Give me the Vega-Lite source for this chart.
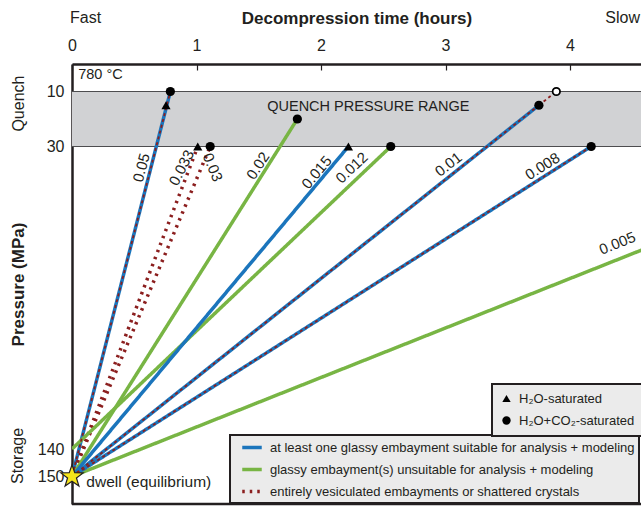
{
  "$schema": "https://vega.github.io/schema/vega-lite/v6.json",
  "width": 569,
  "height": 440,
  "autosize": "none",
  "padding": {"left": 72, "top": 64, "right": 0, "bottom": 4},
  "background": "white",
  "config": {
    "view": {"stroke": null},
    "font": "Liberation Sans",
    "text": {"color": "#231f20", "font": "Liberation Sans"},
    "axis": {"labelFont": "Liberation Sans", "titleFont": "Liberation Sans", "labelColor": "#231f20", "titleColor": "#231f20", "grid": false},
    "legend": {"labelFont": "Liberation Sans", "labelColor": "#231f20", "labelLimit": 600, "strokeWidth": 2}
  },
  "datasets": {
    "lines": [
      {"id": "0.05", "group": "at least one glassy embayment suitable for analysis + modeling", "style": "bicolor", "t": 0, "p": 150},
      {"id": "0.05", "group": "at least one glassy embayment suitable for analysis + modeling", "style": "bicolor", "t": 0.79, "p": 10},
      {"id": "0.033", "group": "entirely vesiculated embayments or shattered crystals", "style": "dotted", "t": 0, "p": 150},
      {"id": "0.033", "group": "entirely vesiculated embayments or shattered crystals", "style": "dotted", "t": 1.01, "p": 30},
      {"id": "0.03", "group": "entirely vesiculated embayments or shattered crystals", "style": "dotted", "t": 0, "p": 150},
      {"id": "0.03", "group": "entirely vesiculated embayments or shattered crystals", "style": "dotted", "t": 1.11, "p": 30},
      {"id": "0.02", "group": "glassy embayment(s) unsuitable for analysis + modeling", "style": "solid", "t": 0, "p": 150},
      {"id": "0.02", "group": "glassy embayment(s) unsuitable for analysis + modeling", "style": "solid", "t": 1.81, "p": 20},
      {"id": "0.012", "group": "glassy embayment(s) unsuitable for analysis + modeling", "style": "solid", "t": 0, "p": 140},
      {"id": "0.012", "group": "glassy embayment(s) unsuitable for analysis + modeling", "style": "solid", "t": 2.56, "p": 30},
      {"id": "0.005", "group": "glassy embayment(s) unsuitable for analysis + modeling", "style": "solid", "t": 0, "p": 150},
      {"id": "0.005", "group": "glassy embayment(s) unsuitable for analysis + modeling", "style": "solid", "t": 5, "p": 60},
      {"id": "0.015", "group": "at least one glassy embayment suitable for analysis + modeling", "style": "solid", "t": 0, "p": 150},
      {"id": "0.015", "group": "at least one glassy embayment suitable for analysis + modeling", "style": "solid", "t": 2.22, "p": 30},
      {"id": "0.01", "group": "at least one glassy embayment suitable for analysis + modeling", "style": "bicolor", "t": 0, "p": 150},
      {"id": "0.01", "group": "at least one glassy embayment suitable for analysis + modeling", "style": "bicolor", "t": 3.75, "p": 15},
      {"id": "0.01 tail", "group": "at least one glassy embayment suitable for analysis + modeling", "style": "tail", "t": 3.75, "p": 15},
      {"id": "0.01 tail", "group": "at least one glassy embayment suitable for analysis + modeling", "style": "tail", "t": 3.89, "p": 10},
      {"id": "0.008", "group": "at least one glassy embayment suitable for analysis + modeling", "style": "bicolor", "t": 0, "p": 150},
      {"id": "0.008", "group": "at least one glassy embayment suitable for analysis + modeling", "style": "bicolor", "t": 4.17, "p": 30}
    ],
    "points": [
      {"t": 0.755, "p": 15, "sat": "H₂O-saturated", "kind": "filled"},
      {"t": 0.79, "p": 10, "sat": "H₂O+CO₂-saturated", "kind": "filled"},
      {"t": 1.01, "p": 30, "sat": "H₂O-saturated", "kind": "filled"},
      {"t": 1.11, "p": 30, "sat": "H₂O+CO₂-saturated", "kind": "filled"},
      {"t": 1.81, "p": 20, "sat": "H₂O+CO₂-saturated", "kind": "filled"},
      {"t": 2.22, "p": 30, "sat": "H₂O-saturated", "kind": "filled"},
      {"t": 2.56, "p": 30, "sat": "H₂O+CO₂-saturated", "kind": "filled"},
      {"t": 3.75, "p": 15, "sat": "H₂O+CO₂-saturated", "kind": "filled"},
      {"t": 4.17, "p": 30, "sat": "H₂O+CO₂-saturated", "kind": "filled"},
      {"t": 3.89, "p": 10, "sat": "H₂O+CO₂-saturated", "kind": "open"}
    ],
    "labels": [
      {"rate": "0.05", "t": 0.557, "p": 37.7},
      {"rate": "0.033", "t": 0.88, "p": 37.7},
      {"rate": "0.03", "t": 1.13, "p": 37.6},
      {"rate": "0.02", "t": 1.494, "p": 37.0},
      {"rate": "0.015", "t": 1.965, "p": 39.4},
      {"rate": "0.012", "t": 2.247, "p": 37.7},
      {"rate": "0.01", "t": 3.023, "p": 36.5},
      {"rate": "0.008", "t": 3.778, "p": 37.2},
      {"rate": "0.005", "t": 4.38, "p": 65.2}
    ],
    "notes": [
      {"key": "temp", "text": "780 °C", "t": 0.05, "p": 4},
      {"key": "range", "text": "QUENCH PRESSURE RANGE", "t": 2.38, "p": 15.5},
      {"key": "dwell", "text": "dwell (equilibrium)", "t": 0.115, "p": 152},
      {"key": "fast", "text": "Fast", "t": -0.016, "p": -16.7},
      {"key": "slow", "text": "Slow", "t": 4.562, "p": -16.7},
      {"key": "side", "text": "Quench", "t": -0.425, "p": 14.4},
      {"key": "side", "text": "Storage", "t": -0.43, "p": 142.5}
    ]
  },
  "layer": [
    {
      "data": {"values": [{"t0": 0, "t1": 4.57, "p1": 10, "p2": 30}]},
      "mark": {"type": "rect", "fill": "#d1d2d4"},
      "encoding": {
        "x": {"field": "t0", "type": "quantitative", "scale": {"domain": [0, 4.57], "nice": false, "zero": false},
          "axis": {"orient": "top", "values": [0, 1, 2, 3, 4], "format": "d", "title": "Decompression time (hours)", "titleFontSize": 17, "titleFontWeight": "bold", "titlePadding": 10, "labelFontSize": 16, "labelPadding": 17, "labelFlush": false, "tickSize": -6, "tickColor": "#231f20", "tickWidth": 1.2, "domainColor": "#231f20", "domainWidth": 2.5}},
        "x2": {"field": "t1"},
        "y": {"field": "p1", "type": "quantitative", "scale": {"domain": [0, 160], "reverse": true, "nice": false, "zero": false},
          "axis": {"orient": "left", "values": [10, 30, 140, 150], "title": "Pressure (MPa)", "titleFontSize": 17, "titleFontWeight": "bold", "titlePadding": 10, "labelFontSize": 16, "labelPadding": 8, "ticks": false, "domainColor": "#231f20", "domainWidth": 2.5}},
        "y2": {"field": "p2"}
      }
    },
    {
      "data": {"values": [{"p": 10}, {"p": 30}]},
      "mark": {"type": "rule", "stroke": "#4d4d4f", "strokeWidth": 1},
      "encoding": {"y": {"field": "p", "type": "quantitative"}}
    },
    {
      "data": {"values": [{"p": 160}]},
      "mark": {"type": "rule", "stroke": "#231f20", "strokeWidth": 2.5},
      "encoding": {"y": {"field": "p", "type": "quantitative"}}
    },
    {
      "data": {"name": "lines"},
      "transform": [{"filter": "datum.style != 'tail'"}],
      "mark": {"type": "line", "strokeWidth": 3.5, "clip": true},
      "encoding": {
        "x": {"field": "t", "type": "quantitative"},
        "y": {"field": "p", "type": "quantitative"},
        "detail": {"field": "id"},
        "color": {"field": "group", "type": "nominal",
          "scale": {"domain": ["at least one glassy embayment suitable for analysis + modeling", "glassy embayment(s) unsuitable for analysis + modeling", "entirely vesiculated embayments or shattered crystals"], "range": ["#1b75bc", "#78b544", "#8b1e1e"]},
          "legend": {"title": null, "orient": "none", "legendX": 158, "legendY": 371, "fillColor": "#ebebeb", "strokeColor": "#231f20", "padding": 4, "symbolType": "M-1.5,0H1.5", "symbolSize": 169, "symbolOffset": 9.5, "symbolStrokeWidth": 3.5, "labelFontSize": 13, "rowPadding": 6, "labelOffset": 9.5}},
        "strokeDash": {"field": "group", "type": "nominal",
          "scale": {"domain": ["at least one glassy embayment suitable for analysis + modeling", "glassy embayment(s) unsuitable for analysis + modeling", "entirely vesiculated embayments or shattered crystals"], "range": [[1, 0], [1, 0], [2.5, 5]]},
          "legend": {"title": null, "orient": "none", "legendX": 158, "legendY": 371, "fillColor": "#ebebeb", "strokeColor": "#231f20", "padding": 4, "symbolType": "M-1.5,0H1.5", "symbolSize": 169, "symbolOffset": 9.5, "symbolStrokeWidth": 3.5, "labelFontSize": 13, "rowPadding": 6, "labelOffset": 9.5}}
      }
    },
    {
      "data": {"name": "lines"},
      "transform": [{"filter": "datum.style == 'bicolor' || datum.style == 'tail'"}],
      "mark": {"type": "line", "stroke": "#8b1e1e", "strokeWidth": 1.8, "strokeDash": [3, 3]},
      "encoding": {
        "x": {"field": "t", "type": "quantitative"},
        "y": {"field": "p", "type": "quantitative"},
        "detail": {"field": "id"}
      }
    },
    {
      "data": {"name": "points"},
      "transform": [{"filter": "datum.kind == 'filled'"}],
      "mark": {"type": "point", "filled": true, "color": "black", "size": 85, "opacity": 1},
      "encoding": {
        "x": {"field": "t", "type": "quantitative"},
        "y": {"field": "p", "type": "quantitative"},
        "shape": {"field": "sat", "type": "nominal",
          "scale": {"domain": ["H₂O-saturated", "H₂O+CO₂-saturated"], "range": ["triangle-up", "circle"]},
          "legend": {"title": null, "orient": "none", "legendX": 420, "legendY": 320, "fillColor": "#ebebeb", "strokeColor": "#231f20", "padding": 8, "symbolSize": 70, "symbolFillColor": "black", "symbolStrokeColor": "black", "labelFontSize": 13, "rowPadding": 7, "labelOffset": 6}}
      }
    },
    {
      "data": {"name": "points"},
      "transform": [{"filter": "datum.kind == 'open'"}],
      "mark": {"type": "point", "shape": "circle", "filled": false, "fill": "white", "stroke": "black", "strokeWidth": 1.8, "size": 55, "opacity": 1},
      "encoding": {
        "x": {"field": "t", "type": "quantitative"},
        "y": {"field": "p", "type": "quantitative"}
      }
    },
    {
      "data": {"values": [{"t": 0, "p": 150}]},
      "mark": {"type": "point", "shape": "M0,-1L0.235,-0.324L0.951,-0.309L0.38,0.124L0.588,0.809L0,0.4L-0.588,0.809L-0.38,0.124L-0.951,-0.309L-0.235,-0.324Z", "filled": true, "fill": "#f5e51b", "stroke": "#231f20", "strokeWidth": 1.2, "size": 550, "opacity": 1},
      "encoding": {
        "x": {"field": "t", "type": "quantitative"},
        "y": {"field": "p", "type": "quantitative"}
      }
    },
    {"data": {"name": "labels"}, "transform": [{"filter": "datum.rate == '0.05'"}], "mark": {"type": "text", "angle": -75, "fontSize": 15}, "encoding": {"x": {"field": "t", "type": "quantitative"}, "y": {"field": "p", "type": "quantitative"}, "text": {"field": "rate"}}},
    {"data": {"name": "labels"}, "transform": [{"filter": "datum.rate == '0.033'"}], "mark": {"type": "text", "angle": -63, "fontSize": 15}, "encoding": {"x": {"field": "t", "type": "quantitative"}, "y": {"field": "p", "type": "quantitative"}, "text": {"field": "rate"}}},
    {"data": {"name": "labels"}, "transform": [{"filter": "datum.rate == '0.03'"}], "mark": {"type": "text", "angle": 68, "fontSize": 15}, "encoding": {"x": {"field": "t", "type": "quantitative"}, "y": {"field": "p", "type": "quantitative"}, "text": {"field": "rate"}}},
    {"data": {"name": "labels"}, "transform": [{"filter": "datum.rate == '0.02'"}], "mark": {"type": "text", "angle": -57, "fontSize": 15}, "encoding": {"x": {"field": "t", "type": "quantitative"}, "y": {"field": "p", "type": "quantitative"}, "text": {"field": "rate"}}},
    {"data": {"name": "labels"}, "transform": [{"filter": "datum.rate == '0.015'"}], "mark": {"type": "text", "angle": -50, "fontSize": 15}, "encoding": {"x": {"field": "t", "type": "quantitative"}, "y": {"field": "p", "type": "quantitative"}, "text": {"field": "rate"}}},
    {"data": {"name": "labels"}, "transform": [{"filter": "datum.rate == '0.012'"}], "mark": {"type": "text", "angle": -43, "fontSize": 15}, "encoding": {"x": {"field": "t", "type": "quantitative"}, "y": {"field": "p", "type": "quantitative"}, "text": {"field": "rate"}}},
    {"data": {"name": "labels"}, "transform": [{"filter": "datum.rate == '0.01'"}], "mark": {"type": "text", "angle": -38, "fontSize": 15}, "encoding": {"x": {"field": "t", "type": "quantitative"}, "y": {"field": "p", "type": "quantitative"}, "text": {"field": "rate"}}},
    {"data": {"name": "labels"}, "transform": [{"filter": "datum.rate == '0.008'"}], "mark": {"type": "text", "angle": -32, "fontSize": 15}, "encoding": {"x": {"field": "t", "type": "quantitative"}, "y": {"field": "p", "type": "quantitative"}, "text": {"field": "rate"}}},
    {"data": {"name": "labels"}, "transform": [{"filter": "datum.rate == '0.005'"}], "mark": {"type": "text", "angle": -22, "fontSize": 15}, "encoding": {"x": {"field": "t", "type": "quantitative"}, "y": {"field": "p", "type": "quantitative"}, "text": {"field": "rate"}}},
    {"data": {"name": "notes"}, "transform": [{"filter": "datum.key == 'temp'"}], "mark": {"type": "text", "align": "left", "fontSize": 14.5}, "encoding": {"x": {"field": "t", "type": "quantitative"}, "y": {"field": "p", "type": "quantitative"}, "text": {"field": "text"}}},
    {"data": {"name": "notes"}, "transform": [{"filter": "datum.key == 'range'"}], "mark": {"type": "text", "align": "center", "fontSize": 14.5}, "encoding": {"x": {"field": "t", "type": "quantitative"}, "y": {"field": "p", "type": "quantitative"}, "text": {"field": "text"}}},
    {"data": {"name": "notes"}, "transform": [{"filter": "datum.key == 'dwell'"}], "mark": {"type": "text", "align": "left", "fontSize": 15.5}, "encoding": {"x": {"field": "t", "type": "quantitative"}, "y": {"field": "p", "type": "quantitative"}, "text": {"field": "text"}}},
    {"data": {"name": "notes"}, "transform": [{"filter": "datum.key == 'fast'"}], "mark": {"type": "text", "align": "left", "fontSize": 16}, "encoding": {"x": {"field": "t", "type": "quantitative"}, "y": {"field": "p", "type": "quantitative"}, "text": {"field": "text"}}},
    {"data": {"name": "notes"}, "transform": [{"filter": "datum.key == 'slow'"}], "mark": {"type": "text", "align": "right", "fontSize": 16}, "encoding": {"x": {"field": "t", "type": "quantitative"}, "y": {"field": "p", "type": "quantitative"}, "text": {"field": "text"}}},
    {"data": {"name": "notes"}, "transform": [{"filter": "datum.key == 'side'"}], "mark": {"type": "text", "align": "center", "angle": 270, "fontSize": 16}, "encoding": {"x": {"field": "t", "type": "quantitative"}, "y": {"field": "p", "type": "quantitative"}, "text": {"field": "text"}}}
  ]
}
